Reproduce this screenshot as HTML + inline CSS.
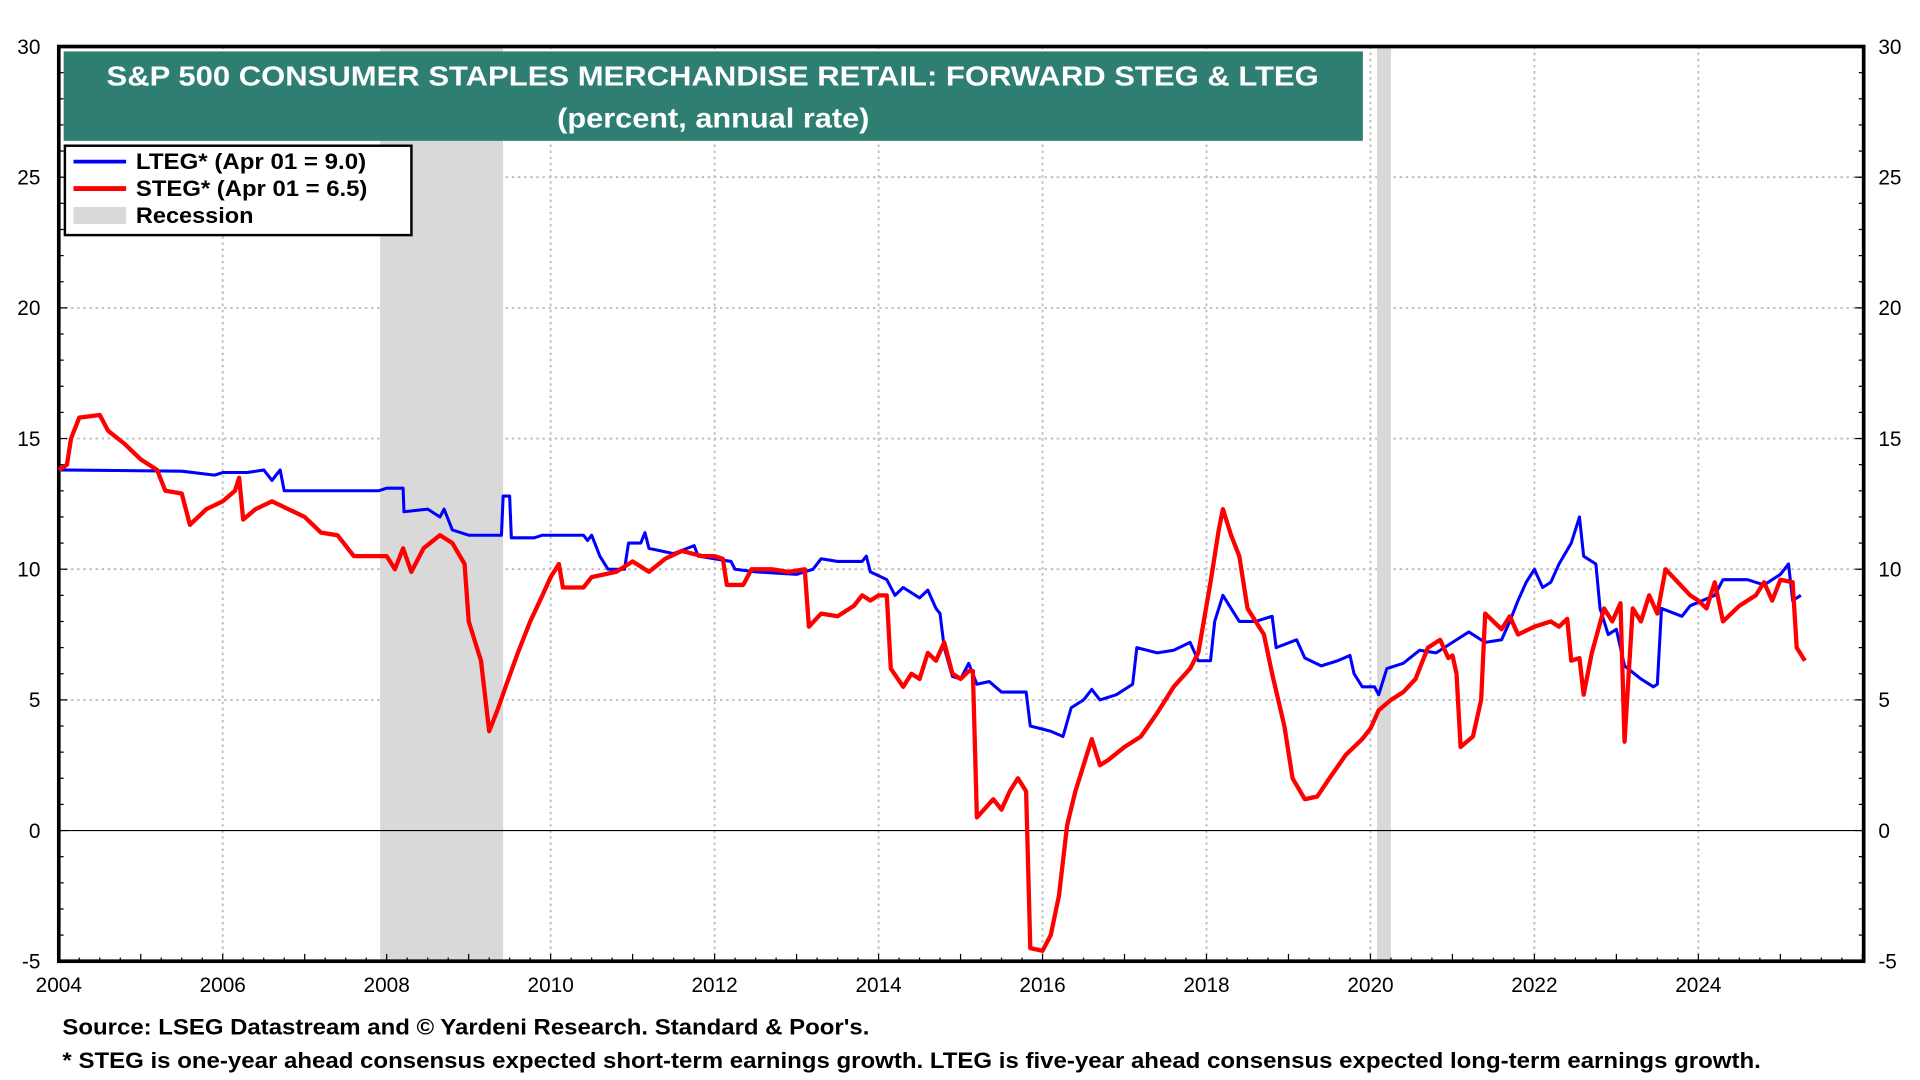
<!DOCTYPE html>
<html><head><meta charset="utf-8">
<style>
html,body{margin:0;padding:0;background:#fff;width:1920px;height:1080px;overflow:hidden}
svg{display:block;font-family:"Liberation Sans",Arial,sans-serif}
</style></head>
<body>
<svg id="chart" width="1920" height="1080" viewBox="0 0 1568 882" xmlns="http://www.w3.org/2000/svg">
<g id="grid"></g>
<g id="rec"></g>
<g id="axes"></g>
<g id="series"></g>
<g>
<rect x="52" y="42" width="1061" height="73" fill="#2e7f72"/>
<text x="87" y="70" textLength="990" lengthAdjust="spacingAndGlyphs" fill="#fff" font-weight="bold" font-size="23">S&amp;P 500 CONSUMER STAPLES MERCHANDISE RETAIL: FORWARD STEG &amp; LTEG</text>
<text x="455" y="104" textLength="255" lengthAdjust="spacingAndGlyphs" fill="#fff" font-weight="bold" font-size="23">(percent, annual rate)</text>
</g>
<g>
<rect x="53" y="119" width="283" height="73" fill="#fff" stroke="#000" stroke-width="2"/>
<line x1="60" y1="132" x2="103" y2="132" stroke="#0000ff" stroke-width="3"/>
<text x="111" y="138" textLength="188" lengthAdjust="spacingAndGlyphs" font-size="18" font-weight="bold">LTEG* (Apr 01 = 9.0)</text>
<line x1="60" y1="154" x2="103" y2="154" stroke="#ff0000" stroke-width="4"/>
<text x="111" y="160" textLength="189" lengthAdjust="spacingAndGlyphs" font-size="18" font-weight="bold">STEG* (Apr 01 = 6.5)</text>
<rect x="60" y="169" width="43" height="14" fill="#d9d9d9"/>
<text x="111" y="182" textLength="96" lengthAdjust="spacingAndGlyphs" font-size="18" font-weight="bold">Recession</text>
</g>
<text x="51" y="845" textLength="659" lengthAdjust="spacingAndGlyphs" font-size="18" font-weight="bold">Source: LSEG Datastream and © Yardeni Research. Standard &amp; Poor's.</text>
<text x="51" y="872" textLength="1387" lengthAdjust="spacingAndGlyphs" font-size="18" font-weight="bold">* STEG is one-year ahead consensus expected short-term earnings growth. LTEG is five-year ahead consensus expected long-term earnings growth.</text>
</svg>
<script>
const yTicks=[-5,0,5,10,15,20,25,30];
const xTicks=[2004,2006,2008,2010,2012,2014,2016,2018,2020,2022,2024];
const recessions=[[2007.92,2009.42],[2020.08,2020.25]];
const ltegX=[2004.0,2005.5,2005.9,2006.0,2006.3,2006.5,2006.6,2006.7,2006.75,2007.9,2008.0,2008.2,2008.21,2008.5,2008.65,2008.7,2008.8,2009.0,2009.4,2009.42,2009.5,2009.52,2009.8,2009.9,2010.4,2010.45,2010.5,2010.6,2010.7,2010.9,2010.95,2011.1,2011.15,2011.2,2011.5,2011.75,2011.8,2012.2,2012.25,2012.5,2013.0,2013.2,2013.3,2013.5,2013.8,2013.85,2013.9,2014.1,2014.2,2014.3,2014.5,2014.6,2014.7,2014.75,2014.8,2014.9,2015.0,2015.1,2015.2,2015.35,2015.5,2015.8,2015.85,2016.1,2016.25,2016.35,2016.5,2016.6,2016.7,2016.9,2017.1,2017.15,2017.4,2017.6,2017.8,2017.9,2018.05,2018.1,2018.2,2018.3,2018.4,2018.6,2018.8,2018.85,2019.1,2019.2,2019.4,2019.6,2019.75,2019.8,2019.9,2020.05,2020.1,2020.2,2020.4,2020.6,2020.8,2021.0,2021.2,2021.4,2021.6,2021.7,2021.8,2021.9,2022.0,2022.1,2022.2,2022.3,2022.45,2022.55,2022.6,2022.75,2022.8,2022.9,2023.0,2023.1,2023.3,2023.45,2023.5,2023.55,2023.8,2023.9,2024.2,2024.3,2024.6,2024.8,2025.0,2025.1,2025.15,2025.25];
const ltegY=[13.8,13.75,13.6,13.7,13.7,13.8,13.4,13.8,13.0,13.0,13.1,13.1,12.2,12.3,12.0,12.3,11.5,11.3,11.3,12.8,12.8,11.2,11.2,11.3,11.3,11.1,11.3,10.5,10.0,10.0,11.0,11.0,11.4,10.8,10.6,10.9,10.5,10.3,10.0,9.9,9.8,10.0,10.4,10.3,10.3,10.5,9.9,9.6,9.0,9.3,8.9,9.2,8.5,8.3,7.0,5.9,5.8,6.4,5.6,5.7,5.3,5.3,4.0,3.8,3.6,4.7,5.0,5.4,5.0,5.2,5.6,7.0,6.8,6.9,7.2,6.5,6.5,8.0,9.0,8.5,8.0,8.0,8.2,7.0,7.3,6.6,6.3,6.5,6.7,6.0,5.5,5.5,5.2,6.2,6.4,6.9,6.8,7.2,7.6,7.2,7.3,8.0,8.8,9.5,10.0,9.3,9.5,10.2,11.0,12.0,10.5,10.2,8.5,7.5,7.7,6.3,5.8,5.5,5.6,8.5,8.2,8.6,9.0,9.6,9.6,9.4,9.8,10.2,8.8,9.0];
const stegX=[2004.0,2004.1,2004.15,2004.25,2004.5,2004.6,2004.8,2005.0,2005.2,2005.3,2005.5,2005.6,2005.8,2006.0,2006.15,2006.2,2006.25,2006.4,2006.6,2006.8,2007.0,2007.2,2007.4,2007.6,2007.8,2008.0,2008.1,2008.2,2008.3,2008.45,2008.65,2008.8,2008.95,2009.0,2009.15,2009.25,2009.35,2009.45,2009.6,2009.75,2009.9,2010.0,2010.1,2010.15,2010.4,2010.5,2010.8,2011.0,2011.2,2011.4,2011.6,2011.85,2012.0,2012.1,2012.15,2012.35,2012.45,2012.7,2012.9,2013.1,2013.15,2013.3,2013.5,2013.7,2013.8,2013.9,2014.0,2014.1,2014.15,2014.3,2014.4,2014.5,2014.6,2014.7,2014.8,2014.9,2015.0,2015.1,2015.15,2015.2,2015.4,2015.5,2015.6,2015.7,2015.8,2015.85,2016.0,2016.1,2016.2,2016.3,2016.4,2016.5,2016.6,2016.7,2016.8,2017.0,2017.2,2017.4,2017.6,2017.8,2017.9,2018.05,2018.15,2018.2,2018.3,2018.4,2018.5,2018.7,2018.8,2018.95,2019.05,2019.2,2019.35,2019.5,2019.7,2019.9,2020.0,2020.1,2020.25,2020.4,2020.55,2020.7,2020.85,2020.95,2021.0,2021.05,2021.1,2021.25,2021.35,2021.4,2021.6,2021.7,2021.8,2022.0,2022.2,2022.3,2022.4,2022.45,2022.55,2022.6,2022.7,2022.85,2022.95,2023.05,2023.1,2023.2,2023.3,2023.4,2023.5,2023.6,2023.75,2023.9,2024.0,2024.1,2024.2,2024.3,2024.5,2024.7,2024.8,2024.9,2025.0,2025.15,2025.2,2025.3];
const stegY=[13.8,14.0,15.0,15.8,15.9,15.3,14.8,14.2,13.8,13.0,12.9,11.7,12.3,12.6,13.0,13.5,11.9,12.3,12.6,12.3,12.0,11.4,11.3,10.5,10.5,10.5,10.0,10.8,9.9,10.8,11.3,11.0,10.2,8.0,6.5,3.8,4.6,5.5,6.8,8.0,9.0,9.7,10.2,9.3,9.3,9.7,9.9,10.3,9.9,10.4,10.7,10.5,10.5,10.4,9.4,9.4,10.0,10.0,9.9,10.0,7.8,8.3,8.2,8.6,9.0,8.8,9.0,9.0,6.2,5.5,6.0,5.8,6.8,6.5,7.2,6.0,5.8,6.1,6.1,0.5,1.2,0.8,1.5,2.0,1.5,-4.5,-4.6,-4.0,-2.5,0.2,1.5,2.5,3.5,2.5,2.7,3.2,3.6,4.5,5.5,6.2,6.8,9.5,11.5,12.3,11.3,10.5,8.5,7.5,6.0,4.0,2.0,1.2,1.3,2.0,2.9,3.5,3.9,4.6,5.0,5.3,5.8,7.0,7.3,6.6,6.7,6.0,3.2,3.6,5.0,8.3,7.7,8.2,7.5,7.8,8.0,7.8,8.1,6.5,6.6,5.2,6.8,8.5,8.0,8.7,3.4,8.5,8.0,9.0,8.3,10.0,9.5,9.0,8.8,8.5,9.5,8.0,8.6,9.0,9.5,8.8,9.6,9.5,7.0,6.5];

const L=48,R=1522,T=38,B=785;
const X=v=>L+(v-2004)*(1387-48)/20;
const Y=v=>B-(v+5)*(B-T)/35;
const NS='http://www.w3.org/2000/svg';
function mk(tag,attrs,parent){const e=document.createElementNS(NS,tag);for(const k in attrs)e.setAttribute(k,attrs[k]);parent.appendChild(e);return e;}
const grid=document.getElementById('grid'),rec=document.getElementById('rec'),axes=document.getElementById('axes'),series=document.getElementById('series');
yTicks.forEach(v=>{
  if(v>-5&&v<30&&v!==0){const g=mk('line',{x1:L,x2:R,y1:Y(v),y2:Y(v),stroke:'#bbb','stroke-width':1.5,'stroke-dasharray':'2,3'},grid);
  
  }
  const t1=mk('text',{x:33,y:Y(v)+6,'text-anchor':'end','font-size':17},axes);t1.textContent=v;
  
  
  const t2=mk('text',{x:1534,y:Y(v)+6,'font-size':17},axes);t2.textContent=v;
  
  
});
for(let v=-5;v<=30;v++){mk('line',{x1:L,x2:L+(v%5?4:7),y1:Y(v),y2:Y(v),stroke:'#000'},axes);mk('line',{x1:R,x2:R-(v%5?4:7),y1:Y(v),y2:Y(v),stroke:'#000'},axes);}
xTicks.forEach(v=>{
  if(v>2004){const g=mk('line',{x1:X(v),x2:X(v),y1:T,y2:B,stroke:'#bbb','stroke-width':1.5,'stroke-dasharray':'2,3'},grid);
  
  }
  const t=mk('text',{x:X(v),y:810,'text-anchor':'middle','font-size':17},axes);t.textContent=v;
  
  
});
for(let v=2004;v<=2026;v+=0.25){mk('line',{x1:X(v),x2:X(v),y1:B,y2:B-(v%1?3:6),stroke:'#000'},axes);}
recessions.forEach(r=>{const e=mk('rect',{x:X(r[0]),y:T,width:X(r[1])-X(r[0]),height:B-T,fill:'#d9d9d9'},rec);
  
  });
const z=mk('line',{x1:L,x2:R,y1:Y(0),y2:Y(0),stroke:'#000','stroke-width':1},axes);


const fr=mk('rect',{x:L,y:T,width:R-L,height:B-T,fill:'none',stroke:'#000','stroke-width':3},axes);


function line(xs,ys,color,w,name){
  const d=xs.map((x,i)=>(i?'L':'M')+X(x).toFixed(1)+','+Y(ys[i]).toFixed(1)).join('');
  const p=mk('path',{d:d,fill:'none',stroke:color,'stroke-width':w,'stroke-linejoin':'round'},series);
  
  
}
line(ltegX,ltegY,'#0000ff',2.5,'lteg-line');
line(stegX,stegY,'#ff0000',3.5,'steg-line');
</script>
</body></html>
